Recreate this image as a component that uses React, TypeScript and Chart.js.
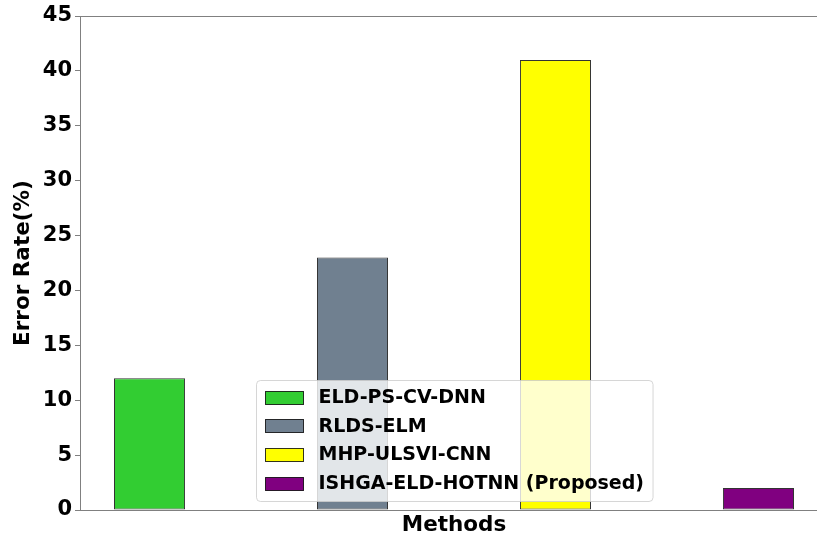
import React, { useEffect, useRef } from "react";
import { Chart, registerables } from "chart.js";

Chart.register(...registerables);

const categories = ["ELD-PS-CV-DNN", "RLDS-ELM", "MHP-ULSVI-CNN", "ISHGA-ELD-HOTNN (Proposed)"];
const errorRates = [12, 23, 41, 2];
const barColors = ["#32CD32", "#708090", "#FFFF00", "#800080"];
const yMin = 0;
const yMax = 45;
const yStep = 5;
const yTitle = "Error Rate(%)";
const xTitle = "Methods";

const FONT = "'DejaVu Sans', sans-serif";
const SPINE = "#808080";

const framePlugin = {
  id: "frame",
  afterDatasetsDraw(chart: any) {
    const { ctx, chartArea } = chart;
    ctx.save();
    ctx.strokeStyle = SPINE;
    ctx.lineWidth = 1;
    ctx.beginPath();
    ctx.moveTo(chartArea.left, Math.round(chartArea.top) + 0.5);
    ctx.lineTo(chartArea.right, Math.round(chartArea.top) + 0.5);
    ctx.moveTo(Math.round(chartArea.right) + 0.5, chartArea.top);
    ctx.lineTo(Math.round(chartArea.right) + 0.5, chartArea.bottom);
    ctx.stroke();
    ctx.restore();
  },
};

const legendPlugin = {
  id: "insideLegend",
  afterDraw(chart: any) {
    const { ctx, chartArea } = chart;
    ctx.save();
    ctx.font = `bold 19px ${FONT}`;
    const maxW = Math.max(...categories.map((c) => ctx.measureText(c).width));
    const padL = 8, sw = 38, sh = 13, gap = 16, padR = 9;
    const rowH = 28.67, padT = 16.5, padB = 18.5;
    const n = categories.length;
    const w = padL + sw + gap + maxW + padR;
    const h = padT + rowH * (n - 1) + padB;
    const cx = (chartArea.left + chartArea.right) / 2;
    const x = Math.round(cx - w / 2) + 0.5;
    const y = Math.round(chartArea.bottom - 9 - h) + 0.5;
    ctx.beginPath();
    (ctx as any).roundRect(x, y, w, h, 4);
    ctx.fillStyle = "rgba(255,255,255,0.8)";
    ctx.fill();
    ctx.strokeStyle = "rgba(204,204,204,0.8)";
    ctx.lineWidth = 1;
    ctx.stroke();
    ctx.textBaseline = "middle";
    ctx.textAlign = "left";
    categories.forEach((c, i) => {
      const cy = y + padT + rowH * i;
      const sx = Math.round(x + padL) + 0.5;
      const sy = Math.round(cy - sh / 2) + 0.5;
      ctx.fillStyle = barColors[i];
      ctx.fillRect(sx, sy, sw, sh);
      ctx.strokeStyle = "rgba(0,0,0,0.8)";
      ctx.strokeRect(sx, sy, sw, sh);
      ctx.fillStyle = "#000";
      ctx.fillText(c, x + padL + sw + gap, cy + 1);
    });
    ctx.restore();
  },
};

export default function App() {
  const ref = useRef<HTMLCanvasElement | null>(null);

  useEffect(() => {
    if (!ref.current) return;
    Chart.defaults.font.family = FONT;
    const chart = new Chart(ref.current, {
      type: "bar",
      data: {
        datasets: [
          {
            label: yTitle,
            data: errorRates.map((v, i) => ({ x: i, y: v })),
            backgroundColor: barColors,
            borderColor: "rgba(0,0,0,0.8)",
            borderWidth: 1,
            borderSkipped: false,
            categoryPercentage: 1,
            barPercentage: 0.35,
          } as any,
        ],
      },
      options: {
        responsive: false,
        animation: false,
        events: [],
        layout: { padding: { top: 16, right: 2, left: 0, bottom: 0 } },
        plugins: { legend: { display: false }, tooltip: { enabled: false } },
        scales: {
          x: {
            type: "linear",
            min: -0.3425,
            max: 3.3425,
            offset: false,
            ticks: { display: false, stepSize: 1, includeBounds: false },
            grid: { display: false },
            border: { display: true, color: SPINE, width: 1 },
            title: {
              display: true,
              text: xTitle,
              color: "#000",
              font: { size: 21.5, weight: "bold", family: FONT },
              padding: { top: 0, bottom: 0 },
            },
            afterFit: (s: any) => {
              s.height = 28;
            },
          },
          y: {
            type: "linear",
            min: yMin,
            max: yMax,
            ticks: {
              stepSize: yStep,
              color: "#000",
              padding: 3,
              font: { size: 21, weight: "bold", family: FONT },
            },
            grid: { display: true, drawOnChartArea: false, drawTicks: true, tickLength: 5, color: SPINE },
            border: { display: true, color: SPINE, width: 1 },
            title: {
              display: true,
              text: yTitle,
              color: "#000",
              font: { size: 21.5, weight: "bold", family: FONT },
              padding: { top: 11, bottom: 0 },
            },
            afterFit: (s: any) => {
              s.width = 80;
            },
          },
        },
      } as any,
      plugins: [framePlugin, legendPlugin],
    });
    return () => chart.destroy();
  }, []);

  return (
    <div style={{ position: "absolute", left: 0, top: 0, width: 817, height: 538, overflow: "hidden", background: "#fff" }}>
      <canvas ref={ref} width={830} height={538} style={{ display: "block", width: 830, height: 538 }} />
    </div>
  );
}
